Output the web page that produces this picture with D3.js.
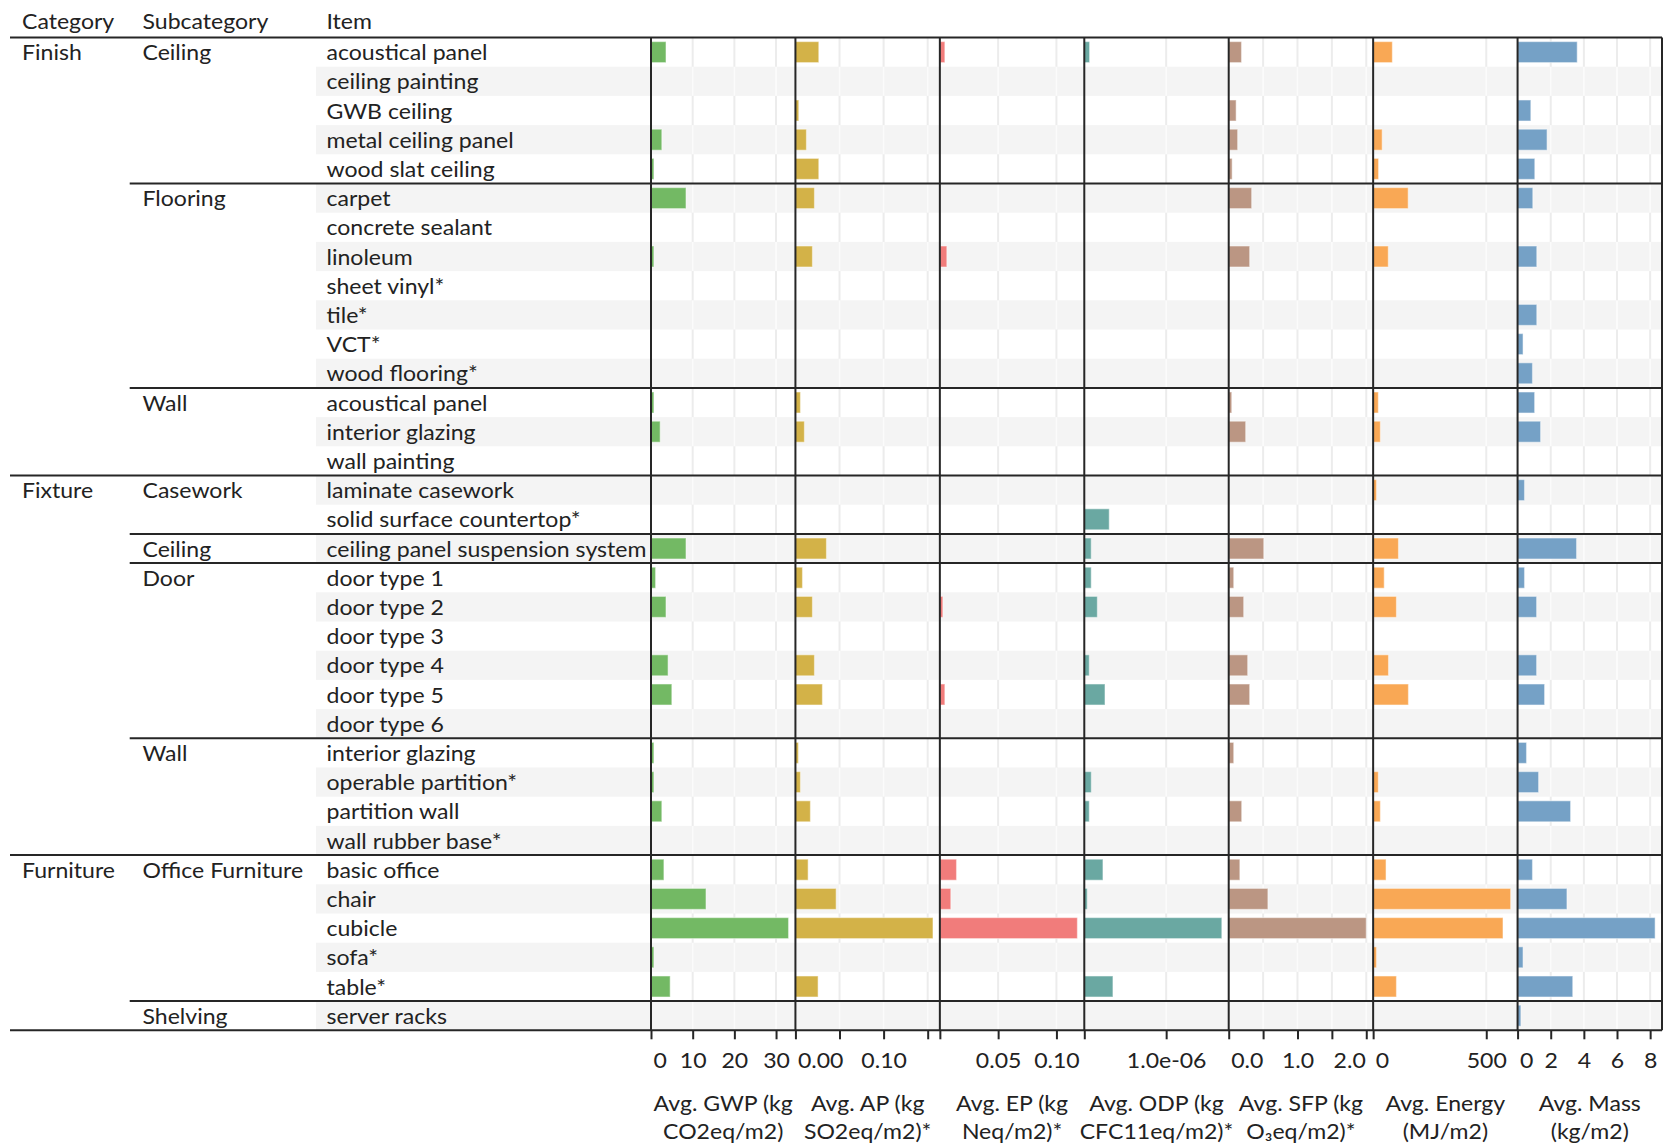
<!DOCTYPE html>
<html>
<head>
<meta charset="utf-8">
<script src="https://cdn.jsdelivr.net/npm/d3@7"></script>
<style>
  html, body { margin: 0; padding: 0; background: #fff; }
  svg { display: block; }
  text { font-family: Lato, "Noto Sans", sans-serif; font-size: 21px; fill: #222222; }
</style>
</head>
<body>
<svg id="chart" width="1667" height="1146"></svg>
<script>
// ---- rows of the table ----
const categories = [
  "Finish","Finish","Finish","Finish","Finish",
  "Finish","Finish","Finish","Finish","Finish","Finish","Finish",
  "Finish","Finish","Finish",
  "Fixture","Fixture","Fixture",
  "Fixture","Fixture","Fixture","Fixture","Fixture","Fixture",
  "Fixture","Fixture","Fixture","Fixture",
  "Furniture","Furniture","Furniture","Furniture","Furniture",
  "Furniture"
];
const subcategories = [
  "Ceiling","Ceiling","Ceiling","Ceiling","Ceiling",
  "Flooring","Flooring","Flooring","Flooring","Flooring","Flooring","Flooring",
  "Wall","Wall","Wall",
  "Casework","Casework","Ceiling",
  "Door","Door","Door","Door","Door","Door",
  "Wall","Wall","Wall","Wall",
  "Office Furniture","Office Furniture","Office Furniture","Office Furniture","Office Furniture",
  "Shelving"
];
const items = [
  "acoustical panel","ceiling painting","GWB ceiling","metal ceiling panel","wood slat ceiling",
  "carpet","concrete sealant","linoleum","sheet vinyl*","tile*","VCT*","wood flooring*",
  "acoustical panel","interior glazing","wall painting",
  "laminate casework","solid surface countertop*","ceiling panel suspension system",
  "door type 1","door type 2","door type 3","door type 4","door type 5","door type 6",
  "interior glazing","operable partition*","partition wall","wall rubber base*",
  "basic office","chair","cubicle","sofa*","table*",
  "server racks"
];

// ---- series (null = no value) ----
const gwp = [3.6,null,null,2.6,0.7, 8.4,null,0.7,null,null,null,null, 0.7,2.2,null,
  null,null,8.4, 1.1,3.6,null,4.1,5.0,null, 0.7,0.7,2.6,null, 3.1,13.2,33.0,0.7,4.6, null];
const ap = [0.0265,null,0.0038,0.0125,0.0265, 0.0216,null,0.0193,null,null,null,null, 0.0057,0.0102,null,
  null,null,0.0352, 0.008,0.0193,null,0.0216,0.0306,null, 0.0034,0.0057,0.017,null,
  0.0144,0.0462,0.156,null,0.0257, null];
const ep = [0.0043,null,null,null,null, null,null,0.006,null,null,null,null, null,null,null,
  null,null,null, null,0.0026,null,null,0.0043,null, null,null,null,null,
  0.0143,0.0094,0.118,null,null, null];
const odp = [0.065e-6,null,null,null,null, null,null,null,null,null,null,null, null,null,null,
  null,0.305e-6,0.085e-6, 0.085e-6,0.16e-6,null,0.061e-6,0.253e-6,null, null,0.086e-6,0.061e-6,null,
  0.228e-6,0.037e-6,1.68e-6,null,0.35e-6, null];
const sfp = [0.186,null,0.108,0.13,0.05, 0.334,null,0.305,null,null,null,null, 0.044,0.247,null,
  null,null,0.51, 0.073,0.218,null,0.276,0.305,null, 0.073,null,0.189,null,
  0.162,0.57,2.0,null,null, null];
const energy = [85,null,null,40,24, 155,null,67,null,null,null,null, 23,32,null,
  15,null,112, 49,103,null,68,156,null, null,23,32,null,
  57,608,574,15,103, null];
const mass = [3.6,null,0.8,1.78,1.04, 0.92,null,1.16,null,1.16,0.33,0.9, 1.03,1.39,null,
  0.42,null,3.56, 0.42,1.15,null,1.15,1.63,null, 0.54,1.27,3.2,null,
  0.9,2.98,8.3,0.33,3.33, 0.2];

// ---- axis ticks and labels per measure ----
const gwpTicks = [0, 10, 20, 30],            gwpLabels = [0, 10, 20, 30];
const apTicks = [0, 0.05, 0.10, 0.15],       apLabels = [0, 0.10];
const epTicks = [0, 0.05, 0.10],             epLabels = [0.05, 0.10];
const odpTicks = [0, 1e-6],                  odpLabels = [1e-6];
const sfpTicks = [0, 0.5, 1.0, 1.5, 2.0],    sfpLabels = [0, 1.0, 2.0];
const energyTicks = [0, 500],                energyLabels = [0, 500];
const massTicks = [0, 2, 4, 6, 8],           massLabels = [0, 2, 4, 6, 8];

const expFmt = v => { const [m, e] = v.toExponential(1).split("e");
  const n = Math.abs(+e); return m + "e" + (+e < 0 ? "-" : "+") + (n < 10 ? "0" + n : n); };

const measures = [
  { key: "gwp", values: gwp, color: "#73b964", ticks: gwpTicks, labels: gwpLabels, fmt: d3.format("d"),
    title: ["Avg. GWP (kg", "CO2eq/m2)"] },
  { key: "ap", values: ap, color: "#d3b248", ticks: apTicks, labels: apLabels, fmt: d3.format(".2f"),
    title: ["Avg. AP (kg", "SO2eq/m2)*"] },
  { key: "ep", values: ep, color: "#f17c7b", ticks: epTicks, labels: epLabels, fmt: d3.format(".2f"),
    title: ["Avg. EP (kg", "Neq/m2)*"] },
  { key: "odp", values: odp, color: "#6aa8a2", ticks: odpTicks, labels: odpLabels, fmt: expFmt,
    title: ["Avg. ODP (kg", "CFC11eq/m2)*"] },
  { key: "sfp", values: sfp, color: "#bb9683", ticks: sfpTicks, labels: sfpLabels, fmt: d3.format(".1f"),
    title: ["Avg. SFP (kg", "O\u2083eq/m2)*"] },
  { key: "energy", values: energy, color: "#f9a855", ticks: energyTicks, labels: energyLabels, fmt: d3.format("d"),
    title: ["Avg. Energy", "(MJ/m2)"] },
  { key: "mass", values: mass, color: "#75a1c6", ticks: massTicks, labels: massLabels, fmt: d3.format("d"),
    title: ["Avg. Mass", "(kg/m2)"] }
];

// ---- layout ----
const svg = d3.select("#chart");
const tableTop = 37.5, tableBottom = 1030.3, ruleLeft = 10, subLeft = 129.7, stripeLeft = 316;
const panelsLeft = 651, panelsRight = 1662;
const colX = { cat: 22, sub: 142.5, item: 326.5 };
const lineColor = "#262626";

const rowY = d3.scaleBand().domain(d3.range(items.length)).range([tableTop, tableBottom]);
const panelX = d3.scaleBand().domain(measures.map(m => m.key)).range([panelsLeft, panelsRight]);
const pw = panelX.bandwidth();
measures.forEach(m => {
  m.scale = d3.scaleLinear().domain([0, d3.max(m.values) * 1.05]).range([0, pw]);
});

// horizontal compression for text to match a narrow humanist face
const probe = svg.append("text").text("ceiling panel suspension system");
const sx = Math.max(0.8, Math.min(1.15, 320 / probe.node().getComputedTextLength()));
probe.remove();
const squeeze = sel => sel.attr("transform", function () {
  const x = +this.getAttribute("data-x") || 0, y = +this.getAttribute("data-y") || 0;
  return `translate(${x},${y}) scale(${sx},1)`;
});

// striped rows
svg.append("g").selectAll("rect")
  .data(d3.range(items.length).filter(i => i % 2 === 1))
  .join("rect")
  .attr("x", stripeLeft).attr("width", panelsRight - stripeLeft)
  .attr("y", i => rowY(i)).attr("height", rowY.bandwidth())
  .attr("fill", "#f4f4f4");

// grid lines (light on white rows, near-white across stripes)
const grid = svg.append("g");
measures.forEach(m => {
  const gx = m.ticks.filter(t => t > 0).map(t => panelX(m.key) + m.scale(t));
  grid.append("g").selectAll("line").data(gx).join("line")
    .attr("x1", d => d).attr("x2", d => d).attr("y1", tableTop).attr("y2", tableBottom)
    .attr("stroke", "#ececec").attr("stroke-width", 2);
  const segs = [];
  gx.forEach(x => d3.range(items.length).filter(i => i % 2 === 1).forEach(i => segs.push({ x, i })));
  grid.append("g").selectAll("line").data(segs).join("line")
    .attr("x1", d => d.x).attr("x2", d => d.x)
    .attr("y1", d => rowY(d.i)).attr("y2", d => rowY(d.i) + rowY.bandwidth())
    .attr("stroke", "#fbfbfb").attr("stroke-width", 2);
});

// bars
const barH = rowY.bandwidth() * 0.72;
measures.forEach(m => {
  svg.append("g").attr("transform", `translate(${panelX(m.key)},0)`)
    .selectAll("rect")
    .data(m.values.map((v, i) => ({ v, i })).filter(d => d.v != null))
    .join("rect")
    .attr("x", 0).attr("width", d => m.scale(d.v))
    .attr("y", d => rowY(d.i) + (rowY.bandwidth() - barH) / 2).attr("height", barH)
    .attr("fill", m.color)
    .attr("stroke", "#ffffff").attr("stroke-opacity", 0.45).attr("stroke-width", 1.2);
});

// panel borders and axes; edge labels sit flush with their tick
measures.forEach(m => {
  const x0 = panelX(m.key);
  svg.append("line").attr("x1", x0).attr("x2", x0).attr("y1", tableTop).attr("y2", tableBottom)
    .attr("stroke", lineColor).attr("stroke-width", 2);
  const axis = d3.axisBottom(m.scale)
    .tickValues(m.ticks)
    .tickSize(9).tickPadding(12)
    .tickFormat(v => m.labels.some(l => Math.abs(l - v) < 1e-12) ? m.fmt(v) : "");
  const g = svg.append("g").attr("transform", `translate(${x0},${tableBottom})`).call(axis);
  g.select(".domain").remove();
  g.attr("font-size", null).attr("font-family", null);
  g.selectAll(".tick line").attr("stroke", lineColor).attr("stroke-width", 2);
  const nearEnd = v => pw - m.scale(v) < 10;
  g.selectAll(".tick text")
    .attr("fill", null)
    .attr("dy", null).attr("y", null)
    .attr("dominant-baseline", "central")
    .attr("data-y", 30)
    .attr("data-x", v => v === 0 ? 2 : nearEnd(v) ? -1 : 0)
    .attr("text-anchor", v => v === 0 ? "start" : nearEnd(v) ? "end" : "middle")
    .call(squeeze);

  // two-line title
  svg.append("g").selectAll("text").data(m.title).join("text")
    .attr("data-x", x0 + pw / 2).attr("data-y", (d, i) => 1103 + i * 28)
    .attr("text-anchor", "middle").attr("dominant-baseline", "central")
    .text(d => d).call(squeeze);
});
svg.append("line").attr("x1", panelsRight).attr("x2", panelsRight).attr("y1", tableTop).attr("y2", tableBottom)
  .attr("stroke", lineColor).attr("stroke-width", 2);

// horizontal rules: header, category and subcategory breaks, bottom
const rules = [{ y: tableTop, x: ruleLeft }, { y: tableBottom, x: ruleLeft }];
for (let i = 1; i < items.length; i++) {
  if (categories[i] !== categories[i - 1]) rules.push({ y: rowY(i), x: ruleLeft });
  else if (subcategories[i] !== subcategories[i - 1]) rules.push({ y: rowY(i), x: subLeft });
}
svg.append("g").selectAll("line").data(rules).join("line")
  .attr("x1", d => d.x).attr("x2", panelsRight).attr("y1", d => d.y).attr("y2", d => d.y)
  .attr("stroke", lineColor).attr("stroke-width", 2);

// header
svg.append("g").selectAll("text")
  .data([["Category", colX.cat], ["Subcategory", colX.sub], ["Item", colX.item]])
  .join("text")
  .attr("data-x", d => d[1]).attr("data-y", 21).attr("dominant-baseline", "central")
  .text(d => d[0]).call(squeeze);

// table text columns
const mid = i => rowY(i) + rowY.bandwidth() / 2;
const catStarts = d3.range(items.length).filter(i => i === 0 || categories[i] !== categories[i - 1]);
const subStarts = d3.range(items.length).filter(i => i === 0 || subcategories[i] !== subcategories[i - 1] ||
  categories[i] !== categories[i - 1]);
svg.append("g").selectAll("text").data(catStarts).join("text")
  .attr("data-x", colX.cat).attr("data-y", mid).attr("dominant-baseline", "central")
  .text(i => categories[i]).call(squeeze);
svg.append("g").selectAll("text").data(subStarts).join("text")
  .attr("data-x", colX.sub).attr("data-y", mid).attr("dominant-baseline", "central")
  .text(i => subcategories[i]).call(squeeze);
svg.append("g").selectAll("text").data(d3.range(items.length)).join("text")
  .attr("data-x", colX.item).attr("data-y", mid).attr("dominant-baseline", "central")
  .text(i => items[i]).call(squeeze);
</script>
</body>
</html>
